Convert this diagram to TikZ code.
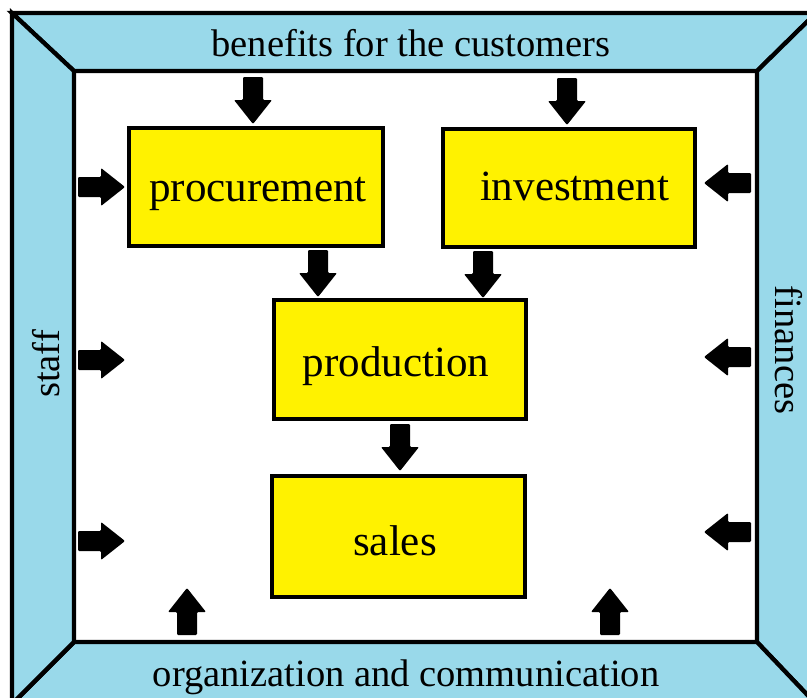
\documentclass[tikz,border=0pt]{standalone}
\usepackage{fontspec}
\setmainfont{Liberation Serif}
\definecolor{frameblue}{HTML}{99D9EA}
\definecolor{boxyellow}{HTML}{FFF200}
\tikzset{
  band/.style={fill=frameblue, draw=black, line width=3.2pt, line join=miter},
  box/.style={draw=black, line width=3.2pt, fill=boxyellow, inner sep=0pt},
  boxtext/.style={anchor=base, inner sep=0pt, font=\fontsize{32.3}{38}\selectfont},
  frametext/.style={anchor=base, inner sep=0pt, font=\fontsize{28.9}{34}\selectfont},
  barrow/.pic={\fill[black, rounded corners=0.8pt] (0,-10) -- (23,-10) -- (23,-19) -- (47,0) -- (23,19) -- (23,10) -- (0,10) -- cycle;}
}
\begin{document}
\begin{tikzpicture}[x=0.75pt,y=-0.75pt]
\useasboundingbox (0,0) rectangle (807,697);
\clip (0,0) rectangle (807,697);
\fill[white] (0,0) rectangle (807,697);
% frame
\coordinate (O1) at (12,13);
\coordinate (O2) at (816,13);
\coordinate (O3) at (816,704);
\coordinate (O4) at (12,704);
\coordinate (I1) at (74,71);
\coordinate (I2) at (757,71);
\coordinate (I3) at (757,642);
\coordinate (I4) at (74,642);
\filldraw[band] (O1) -- (O2) -- (I2) -- (I1) -- cycle;
\filldraw[band] (O2) -- (O3) -- (I3) -- (I2) -- cycle;
\filldraw[band] (O3) -- (O4) -- (I4) -- (I3) -- cycle;
\filldraw[band] (O4) -- (O1) -- (I1) -- (I4) -- cycle;
% frame labels
\node[frametext] (tben) at (411,56) {benefits for the customers};
\node[frametext] (torg) at (406,686) {organization and communication};
\node[frametext, rotate=90] (tstaff) at (59,364) {staff};
\node[frametext, rotate=-90] (tfin) at (775,350) {finances};
% boxes
\node[box, minimum width=190.5pt, minimum height=88.5pt] (proc) at (256,187) {};
\node[box, minimum width=189pt, minimum height=88.5pt] (inv) at (569,188) {};
\node[box, minimum width=189pt, minimum height=89.25pt] (prod) at (400,359.5) {};
\node[box, minimum width=189.75pt, minimum height=90.75pt] (sales) at (398.5,536.5) {};
\node[boxtext] (proct) at (258,201) {procurement};
\node[boxtext] (invt) at (574.5,200.5) {investment};
\node[boxtext] (prodt) at (396,376) {production};
\node[boxtext] (salest) at (395,555) {sales};
% block arrows
\pic[rotate=-90] at (253,77) {barrow};
\pic[rotate=-90] at (567,78) {barrow};
\pic[rotate=-90] at (318,250) {barrow};
\pic[rotate=-90] at (483,251) {barrow};
\pic[rotate=-90] at (400,424) {barrow};
\pic at (78,187) {barrow};
\pic at (78,360) {barrow};
\pic at (78,541) {barrow};
\pic[rotate=180] at (751,183) {barrow};
\pic[rotate=180] at (751,357) {barrow};
\pic[rotate=180] at (751,532) {barrow};
\pic[rotate=90] at (187,635) {barrow};
\pic[rotate=90] at (610,635) {barrow};
\end{tikzpicture}
\end{document}
